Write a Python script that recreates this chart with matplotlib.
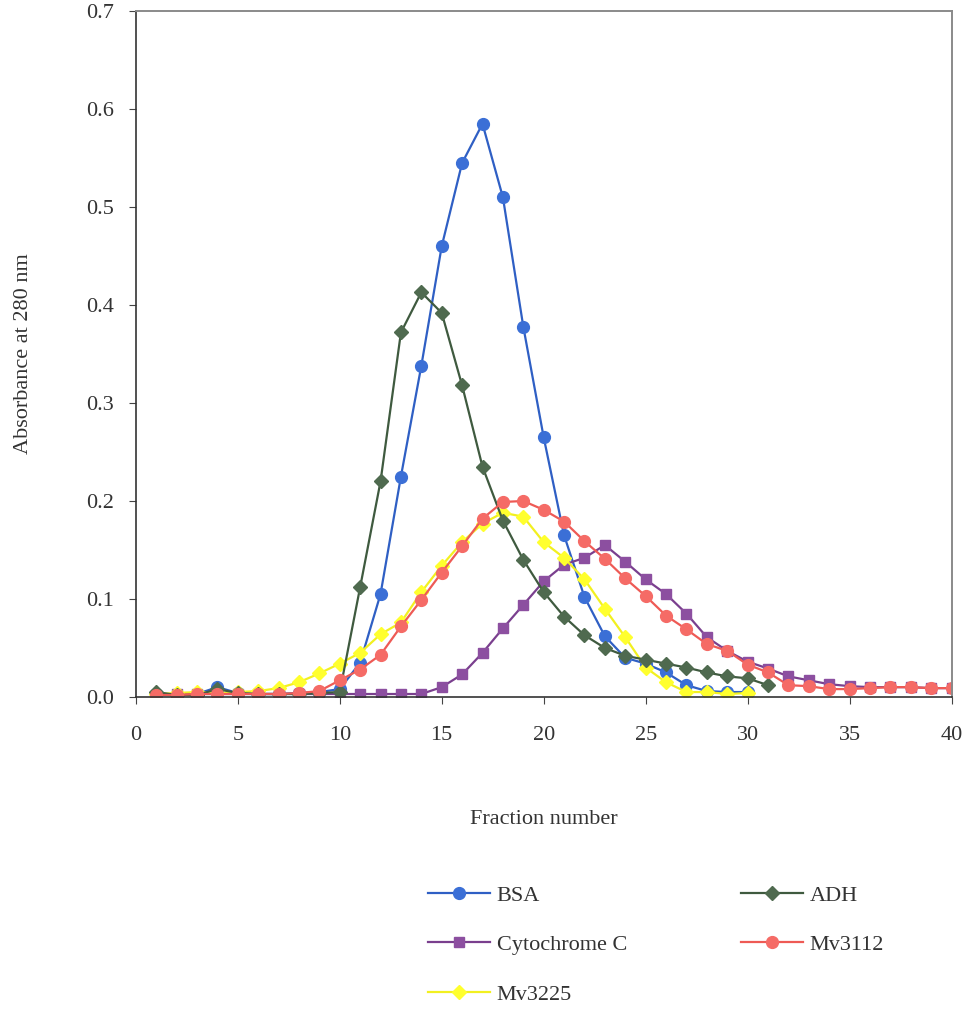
import matplotlib
matplotlib.use("Agg")
import matplotlib.pyplot as plt

plt.rcParams["font.family"] = ["Liberation Serif", "DejaVu Serif"]

fractions = list(range(1, 41))

bsa = [0.003, 0.002, 0.003, 0.010, 0.004, 0.003, 0.003, 0.004, 0.005, 0.008,
       0.035, 0.105, 0.225, 0.338, 0.460, 0.545, 0.585, 0.510, 0.378, 0.265,
       0.165, 0.102, 0.062, 0.040, 0.034, 0.025, 0.012, 0.006, 0.005, 0.005]
adh = [0.005, 0.002, 0.002, 0.008, 0.004, 0.003, 0.003, 0.003, 0.004, 0.005,
       0.112, 0.220, 0.372, 0.413, 0.392, 0.318, 0.235, 0.180, 0.140, 0.107,
       0.082, 0.063, 0.050, 0.042, 0.038, 0.034, 0.030, 0.025, 0.021, 0.019,
       0.012]
cytochrome_c = [0.002, 0.003, 0.003, 0.003, 0.003, 0.003, 0.003, 0.003, 0.003, 0.003,
                0.003, 0.003, 0.003, 0.003, 0.010, 0.023, 0.045, 0.070, 0.094, 0.118,
                0.135, 0.142, 0.155, 0.138, 0.120, 0.105, 0.085, 0.061, 0.047, 0.036,
                0.029, 0.021, 0.017, 0.013, 0.011, 0.010, 0.010, 0.010, 0.009, 0.009]
mv3112 = [0.002, 0.002, 0.003, 0.003, 0.003, 0.003, 0.003, 0.004, 0.006, 0.017,
          0.028, 0.043, 0.072, 0.099, 0.127, 0.154, 0.182, 0.199, 0.200, 0.191,
          0.179, 0.159, 0.141, 0.121, 0.103, 0.083, 0.069, 0.054, 0.047, 0.033,
          0.025, 0.012, 0.011, 0.008, 0.008, 0.009, 0.010, 0.010, 0.009, 0.009]
mv3225 = [0.003, 0.004, 0.005, 0.004, 0.005, 0.006, 0.009, 0.015, 0.024, 0.034,
          0.045, 0.064, 0.076, 0.107, 0.134, 0.158, 0.177, 0.188, 0.184, 0.158,
          0.142, 0.120, 0.090, 0.061, 0.030, 0.015, 0.005, 0.005, 0.003, 0.004]

fig = plt.figure(figsize=(9.7, 10.13), dpi=100)
ax = fig.add_axes([0.140, 0.312, 0.841, 0.677])

def draw(values, label, line, face, marker, size):
	x = fractions[:len(values)]
	ax.plot(x, values, color=line, lw=1.6, marker=marker, ms=size,
		markerfacecolor=face, markeredgecolor=face, label=label)

draw(bsa, "BSA", "#2f5fc4", "#3b6fd6", "o", 8.5)
draw(cytochrome_c, "Cytochrome C", "#7a3f8e", "#8c4fa0", "s", 7.5)
draw(mv3225, "Mv3225", "#f2f020", "#ffff2e", "D", 7)
draw(adh, "ADH", "#3f5a3f", "#4f6a4f", "D", 7)
draw(mv3112, "Mv3112", "#ee5a55", "#f56b66", "o", 8.5)

ax.set_xlim(0, 40)
ax.set_ylim(0, 0.7)
ax.set_xticks(range(0, 41, 5))
ax.set_yticks([i / 10 for i in range(8)])
ax.set_yticklabels(["%.1f" % (i / 10) for i in range(8)])
ax.tick_params(axis="both", direction="out", labelsize=16, length=5, color="#444444")
ax.tick_params(axis="x", pad=16, labelcolor="#333333")
ax.tick_params(axis="y", pad=11, labelcolor="#333333")

for side in ["top", "right"]:
	ax.spines[side].set_color("#8a8a8a")
	ax.spines[side].set_linewidth(1.4)
for side in ["left", "bottom"]:
	ax.spines[side].set_color("#333333")
	ax.spines[side].set_linewidth(1.2)

ax.set_xlabel("Fraction number", fontsize=16, color="#333333")
ax.set_ylabel("Absorbance at 280 nm", fontsize=16, color="#333333")
ax.xaxis.set_label_coords(0.5, -0.165)
ax.yaxis.set_label_coords(-0.126, 0.5)

fig.legend(loc="upper left", bbox_to_anchor=(0.432, 0.135), ncol=2, frameon=False,
	fontsize=16, handlelength=2.8, handletextpad=0.3, labelspacing=1.3,
	columnspacing=5.1, labelcolor="#333333", borderaxespad=0)

fig.savefig("out.png", dpi=100)
